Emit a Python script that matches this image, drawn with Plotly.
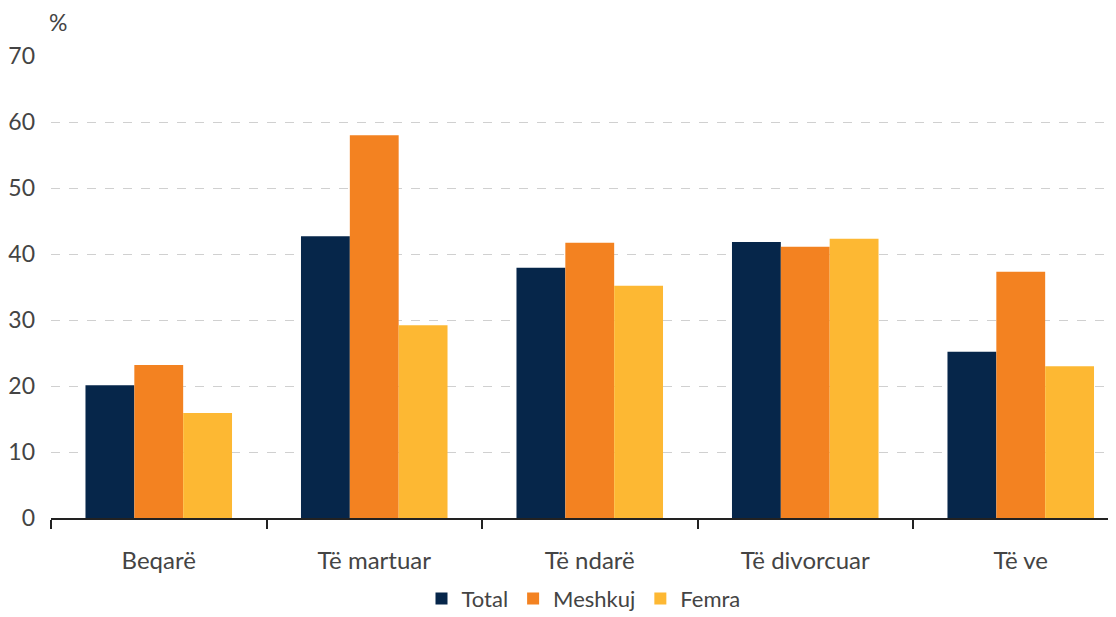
import plotly.graph_objects as go

# categories (marital status) and series values, %
categories = ["Beqarë", "Të martuar", "Të ndarë", "Të divorcuar", "Të ve"]
total = [20.1, 42.7, 37.9, 41.8, 25.2]
meshkuj = [23.2, 58.0, 41.7, 41.1, 37.3]
femra = [15.9, 29.2, 35.2, 42.3, 23.0]

series = [
    ("Total", total, "#06264a"),
    ("Meshkuj", meshkuj, "#f38221"),
    ("Femra", femra, "#fdb833"),
]

FONT = "Lato, Open Sans, sans-serif"
TXT = "#444444"

fig = go.Figure()
for name, vals, col in series:
    fig.add_trace(go.Bar(
        x=categories, y=vals, name=name,
        marker=dict(color=col, line=dict(width=0)),
    ))

# page body has an 8px margin, so the figure is sized 8px smaller
fig.update_layout(
    width=1108, height=609,
    barmode="group", bargap=0.32, bargroupgap=0,
    paper_bgcolor="white", plot_bgcolor="white",
    font=dict(family=FONT, color=TXT, size=22),
    margin=dict(l=43, r=0, t=48, b=99, autoexpand=False),
    showlegend=True,
    legend=dict(
        orientation="h", x=0.5, xanchor="center",
        yref="container", y=0.03, yanchor="middle",
        font=dict(size=22, color=TXT), itemwidth=30, traceorder="normal",
    ),
)

fig.update_xaxes(
    range=[-0.5, 4.442], automargin=False,
    showline=True, linecolor="#222222", linewidth=2,
    ticks="outside", tickson="boundaries", ticklen=9, tickwidth=1.5,
    tickcolor="#222222", showgrid=False,
    tickfont=dict(size=24, color=TXT), ticklabelstandoff=20,
)
fig.update_yaxes(
    range=[0, 70], dtick=10, automargin=False,
    showline=False, zeroline=False,
    showgrid=True, gridcolor="#d0d0d0", griddash="dash", gridwidth=1,
    tickfont=dict(size=23, color=TXT), ticklabelstandoff=15,
)

fig.add_annotation(
    text="%", xref="paper", yref="paper", x=-0.004, y=1.04,
    xanchor="left", yanchor="bottom", showarrow=False,
    font=dict(size=23, color=TXT),
)

fig.write_html("out.html")
